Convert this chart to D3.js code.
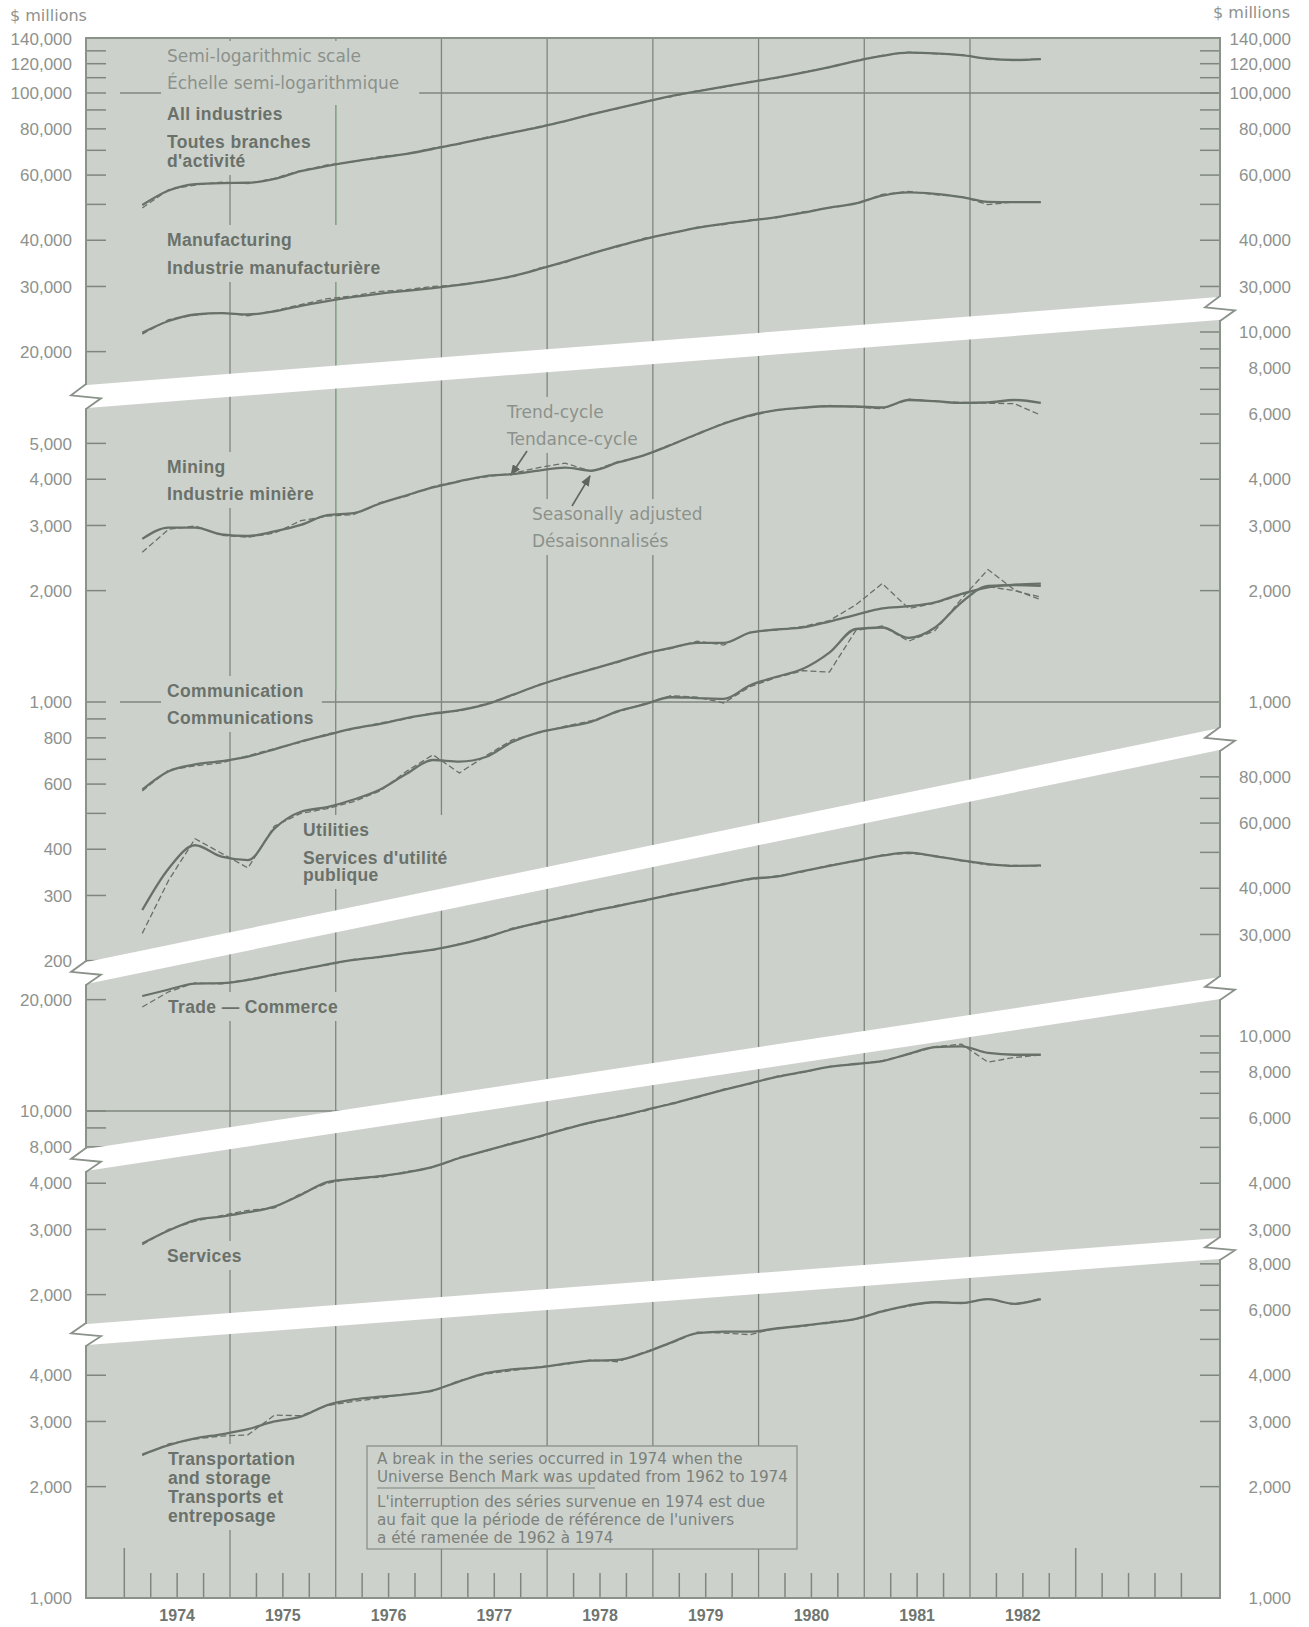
<!DOCTYPE html>
<html>
<head>
<meta charset="utf-8">
<script src="https://cdn.jsdelivr.net/npm/d3@7"></script>
<style>
  html, body { margin: 0; padding: 0; background: #fff; }
  svg { display: block; }
</style>
</head>
<body>
<div id="chart"></div>
<script>
// ---- data ($ millions) ----
const quarters = ["1974Q1","1974Q2","1974Q3","1974Q4","1975Q1","1975Q2","1975Q3","1975Q4",
  "1976Q1","1976Q2","1976Q3","1976Q4","1977Q1","1977Q2","1977Q3","1977Q4",
  "1978Q1","1978Q2","1978Q3","1978Q4","1979Q1","1979Q2","1979Q3","1979Q4",
  "1980Q1","1980Q2","1980Q3","1980Q4","1981Q1","1981Q2","1981Q3","1981Q4",
  "1982Q1","1982Q2","1982Q3"];
const yearLabels = ["1974","1975","1976","1977","1978","1979","1980","1981","1982"];
const gridYears = [1975, 1976, 1977, 1978, 1979, 1980, 1981, 1982];
const tallTickYears = [1974, 1983];

const allIndTrend = [49800,54500,56700,57100,57200,58600,61500,63500,65300,66900,68500,70600,73000,75500,78200,80800,84000,87500,91000,94500,98000,101000,104000,107000,110000,113500,117500,122000,126000,128500,128000,126500,123800,122800,123500];
const allIndSA    = [48900,54800,56400,57400,56900,58800,61700,63900,65200,67300,68400,71000,72800,75900,78000,81100,83800,87900,90800,94900,97700,101400,103600,107300,109700,113900,117200,122400,126300,129000,127600,126900,123200,123100,123300];
const manufTrend  = [22500,24200,25200,25400,25200,25700,26600,27400,28100,28700,29200,29700,30300,31000,32000,33400,35000,36800,38600,40300,41800,43200,44300,45200,46200,47500,49000,50300,52800,53900,53400,52300,50800,50700,50700];
const manufSA     = [22300,24400,25100,25500,25000,25800,26800,27800,28300,29100,29400,30000,30300,31100,31800,33600,34800,37000,38400,40500,41700,43400,44100,45400,46000,47700,48900,50200,53200,54200,53100,52500,49900,50800,50600];
const miningTrend = [2760,2960,2960,2840,2810,2890,3010,3200,3240,3440,3620,3800,3950,4080,4130,4220,4300,4220,4440,4650,4950,5300,5650,5950,6150,6250,6300,6290,6250,6550,6500,6430,6450,6550,6430];
const miningSA    = [2540,2930,2990,2820,2790,2860,3090,3180,3210,3460,3600,3820,3960,4060,4150,4300,4420,4200,4460,4640,4970,5280,5680,5920,6170,6230,6330,6270,6200,6580,6490,6450,6420,6400,5960];
const commTrend   = [580,650,678,692,712,745,782,815,848,873,905,930,950,985,1045,1110,1170,1225,1285,1350,1400,1445,1445,1540,1570,1590,1650,1720,1790,1815,1860,1960,2040,2075,2090];
const commSA      = [575,655,672,685,716,748,778,820,845,878,900,935,945,990,1040,1115,1165,1230,1280,1355,1395,1460,1425,1545,1565,1600,1660,1830,2090,1790,1850,1950,2050,2000,1920];
const utilTrend   = [274,355,410,382,374,455,505,520,545,580,640,697,690,710,780,828,855,885,945,985,1030,1025,1020,1110,1170,1230,1360,1575,1590,1490,1590,1860,2060,2070,2060];
const utilSA      = [237,330,427,390,356,462,500,515,538,575,650,720,643,715,790,825,860,890,940,990,1040,1030,994,1100,1165,1215,1205,1560,1605,1460,1560,1900,2280,2010,1890];
const tradeTrend  = [20450,21300,22100,22150,22600,23400,24100,24900,25600,26100,26700,27300,28200,29500,31000,32300,33400,34700,35800,37100,38400,39700,41000,42400,43000,44500,46000,47500,49000,49900,48800,47600,46500,46000,46100];
const tradeSA     = [19100,21000,22200,22050,22700,23300,24200,24800,25700,26000,26800,27200,28300,29300,31200,32100,33600,34500,36000,36900,38600,39500,41200,42200,43200,44300,46200,47300,49200,49700,49000,47400,46300,46100,45900];
const servTrend   = [2750,2980,3180,3250,3340,3460,3720,4030,4110,4180,4280,4430,4680,4900,5120,5350,5600,5850,6050,6300,6550,6850,7150,7450,7750,8000,8250,8400,8550,8950,9330,9380,9000,8900,8900];
const servSA      = [2730,3000,3160,3270,3380,3430,3750,4000,4130,4150,4300,4410,4700,4880,5150,5320,5630,5820,6080,6270,6580,6820,7180,7420,7780,7970,8280,8380,8580,8920,9360,9500,8500,8750,8880];
const transTrend  = [2440,2590,2700,2770,2860,3000,3090,3320,3440,3500,3550,3640,3850,4050,4150,4200,4300,4380,4400,4600,4900,5200,5250,5250,5350,5450,5550,5680,5950,6180,6300,6270,6420,6240,6420];
const transSA     = [2430,2610,2690,2740,2760,3120,3110,3310,3400,3470,3560,3620,3870,4030,4120,4210,4280,4400,4350,4620,4880,5230,5200,5150,5370,5420,5580,5660,5980,6150,6330,6250,6450,6200,6450];

// axis ticks and labels per panel (top to bottom)
const leftTicks = [
  [20000,30000,40000,50000,60000,70000,80000,90000,100000,110000,120000,130000],
  [200,300,400,500,600,700,800,900,1000,2000,3000,4000,5000],
  [8000,9000,10000,20000],
  [2000,3000,4000],
  [2000,3000,4000]
];
const leftLabels = [
  [20000,30000,40000,60000,80000,100000,120000,140000],
  [200,300,400,600,800,1000,2000,3000,4000,5000],
  [8000,10000,20000],
  [2000,3000,4000],
  [1000,2000,3000,4000]
];
const rightTicks = [
  [30000,40000,50000,60000,70000,80000,90000,100000,110000,120000,130000],
  [2000,3000,4000,5000,6000,7000,8000,9000,10000],
  [30000,40000,50000,60000,70000,80000],
  [3000,4000,5000,6000,7000,8000,9000,10000],
  [2000,3000,4000,5000,6000,7000,8000]
];
const rightLabels = [
  [30000,40000,60000,80000,100000,120000,140000],
  [1000,2000,3000,4000,6000,8000,10000],
  [30000,40000,60000,80000],
  [3000,4000,6000,8000,10000],
  [1000,2000,3000,4000,6000,8000]
];

// ---- layout ----
const W = 1309, H = 1627;
const xLeft = 86, xRight = 1220, yTopEdge = 38, yBottomEdge = 1598;
const DECADE = 370;          // pixels per power of ten, same on every panel
const fill = "#cdd1cc", ink = "#687168", gridInk = "#7e867e", frameInk = "#8a928a";

// white break bands: top edge at left and right, thickness
const bands = [
  {yl: 385, yr: 297, h: 23},
  {yl: 962, yr: 728, h: 22},
  {yl: 1149, yr: 977, h: 22},
  {yl: 1324, yr: 1238, h: 21}
];
function bandY(b, px) { return b.yl + (b.yr - b.yl) * (px - xLeft) / (xRight - xLeft); }

// each panel: y position of a power of ten
const panels = [
  {ref: 100000, yRef: 93},
  {ref: 1000, yRef: 702},
  {ref: 10000, yRef: 1111},
  {ref: 10000, yRef: 1036},
  {ref: 1000, yRef: yBottomEdge}
];
panels.forEach(p => {
  p.y = d3.scaleLog().domain([p.ref / 10, p.ref]).range([p.yRef + DECADE, p.yRef]);
});

// panel outlines between bands
function panelPoly(i) {
  const t = i === 0 ? [[xLeft, yTopEdge], [xRight, yTopEdge]]
    : [[xLeft, bands[i - 1].yl + bands[i - 1].h], [xRight, bands[i - 1].yr + bands[i - 1].h]];
  const b = i === 4 ? [[xRight, yBottomEdge], [xLeft, yBottomEdge]]
    : [[xRight, bands[i].yr], [xLeft, bands[i].yl]];
  return t.concat(b);
}

const x = d3.scaleLinear().domain([1974, 1983]).range([124.3, 1075.7]);
function qTime(q) { return +q.slice(0, 4) + (+q.slice(5) - 1) * 0.25 + 0.17; }

const series = [
  {panel: 0, trend: allIndTrend, sa: allIndSA},
  {panel: 0, trend: manufTrend, sa: manufSA},
  {panel: 1, trend: miningTrend, sa: miningSA},
  {panel: 1, trend: commTrend, sa: commSA},
  {panel: 1, trend: utilTrend, sa: utilSA},
  {panel: 2, trend: tradeTrend, sa: tradeSA},
  {panel: 3, trend: servTrend, sa: servSA},
  {panel: 4, trend: transTrend, sa: transSA}
];

const svg = d3.select("#chart").append("svg")
  .attr("width", W).attr("height", H)
  .style("font-family", "'Liberation Sans', Arial, sans-serif");
const defs = svg.append("defs");
panels.forEach((p, i) => {
  defs.append("clipPath").attr("id", "clip" + i)
    .append("polygon").attr("points", panelPoly(i).map(d => d.join(",")).join(" "));
});
defs.append("marker").attr("id", "arrow")
  .attr("viewBox", "0 0 10 8").attr("refX", 9).attr("refY", 4)
  .attr("markerWidth", 11).attr("markerHeight", 9)
  .attr("markerUnits", "userSpaceOnUse").attr("orient", "auto")
  .append("path").attr("d", "M0,0 L10,4 L0,8 z").attr("fill", "#5f665f");

// background
svg.append("rect").attr("x", xLeft).attr("y", yTopEdge)
  .attr("width", xRight - xLeft).attr("height", yBottomEdge - yTopEdge).attr("fill", fill);

// vertical year grid
const grid = svg.append("g").attr("stroke", gridInk).attr("stroke-width", 1.3);
grid.selectAll("line.v").data(gridYears).enter().append("line")
  .attr("x1", d => x(d)).attr("x2", d => x(d))
  .attr("y1", yTopEdge).attr("y2", yBottomEdge);
// the scan shows the 1976 rule tinted green in the upper part
grid.append("line").attr("x1", x(1976)).attr("x2", x(1976))
  .attr("y1", yTopEdge).attr("y2", 690).attr("stroke", "#7cae7c");

// horizontal rules at powers of ten
const hGrid = [{panel: 0, value: 100000, x0: 120}, {panel: 1, value: 1000, x0: 120}, {panel: 2, value: 10000, x0: xLeft}];
hGrid.forEach(h => {
  grid.append("line").attr("clip-path", `url(#clip${h.panel})`)
    .attr("x1", h.x0).attr("x2", xRight)
    .attr("y1", panels[h.panel].y(h.value)).attr("y2", panels[h.panel].y(h.value));
});

// side ticks
const ticks = svg.append("g").attr("stroke", gridInk).attr("stroke-width", 1.5);
panels.forEach((p, i) => {
  ticks.selectAll(null).data(leftTicks[i]).enter().append("line")
    .attr("x1", xLeft).attr("x2", xLeft + 20)
    .attr("y1", d => p.y(d)).attr("y2", d => p.y(d));
  ticks.selectAll(null).data(rightTicks[i]).enter().append("line")
    .attr("x1", xRight - 20).attr("x2", xRight)
    .attr("y1", d => p.y(d)).attr("y2", d => p.y(d));
});

// bottom quarter ticks
const qTicks = d3.range(1974.25, 1984.01, 0.25).filter(t => !Number.isInteger(t) || t === 1984);
ticks.selectAll(null).data(qTicks).enter().append("line")
  .attr("x1", d => x(d)).attr("x2", d => x(d)).attr("y1", yBottomEdge - 25).attr("y2", yBottomEdge);
ticks.selectAll(null).data(tallTickYears).enter().append("line")
  .attr("x1", d => x(d)).attr("x2", d => x(d)).attr("y1", yBottomEdge - 50).attr("y2", yBottomEdge);

// labels inside the chart, knocked out of the grid
function block(xp, lines, style, pad) {
  const g = svg.append("g");
  const bg = g.append("rect").attr("fill", fill);
  const t = g.selectAll("text").data(lines).enter().append("text")
    .attr("x", xp).attr("y", d => d[1]).text(d => d[0]);
  if (style === "bold") {
    t.attr("font-weight", "bold").attr("font-size", 17.5).attr("letter-spacing", 0.35).attr("fill", "#6a716a");
  } else {
    t.attr("font-family", "'DejaVu Sans', sans-serif").attr("font-size", 17).attr("fill", "#8b918b");
  }
  const bb = g.node().getBBox();
  const pd = pad || [6, 5, 8, 4];
  bg.attr("x", bb.x - pd[0]).attr("y", bb.y - pd[1])
    .attr("width", bb.width + pd[0] + pd[2]).attr("height", bb.height + pd[1] + pd[3]);
}
block(167, [["Semi-logarithmic scale", 62], ["Échelle semi-logarithmique", 89]], "light", [6, 5, 20, 12]);
block(167, [["All industries", 120], ["Toutes branches", 148], ["d'activité", 167]], "bold");
block(167, [["Manufacturing", 246], ["Industrie manufacturière", 274]], "bold");
block(167, [["Mining", 473], ["Industrie minière", 500]], "bold");
block(507, [["Trend-cycle", 418], ["Tendance-cycle", 445]], "light");
block(532, [["Seasonally adjusted", 520], ["Désaisonnalisés", 547]], "light");
block(167, [["Communication", 697], ["Communications", 724]], "bold");
block(303, [["Utilities", 836], ["Services d'utilité", 864], ["publique", 881]], "bold");
block(168, [["Trade — Commerce", 1013]], "bold");
block(167, [["Services", 1262]], "bold");
block(168, [["Transportation", 1465], ["and storage", 1484], ["Transports et", 1503], ["entreposage", 1522]], "bold");

// arrows for the legend
svg.append("line").attr("x1", 527).attr("y1", 451).attr("x2", 511).attr("y2", 475)
  .attr("stroke", "#5f665f").attr("stroke-width", 1.6).attr("marker-end", "url(#arrow)");
svg.append("line").attr("x1", 572).attr("y1", 506).attr("x2", 590).attr("y2", 476)
  .attr("stroke", "#5f665f").attr("stroke-width", 1.6).attr("marker-end", "url(#arrow)");

// note box
const note = svg.append("g");
note.append("rect").attr("x", 367).attr("y", 1446).attr("width", 430).attr("height", 103)
  .attr("fill", fill).attr("stroke", frameInk).attr("stroke-width", 1.3);
const noteLines = [
  ["A break in the series occurred in 1974 when the", 1464],
  ["Universe Bench Mark was updated from 1962 to 1974", 1482],
  ["L'interruption des séries survenue en 1974 est due", 1507],
  ["au fait que la période de référence de l'univers", 1525],
  ["a été ramenée de 1962 à 1974", 1543]
];
note.selectAll("text").data(noteLines).enter().append("text")
  .attr("x", 377).attr("y", d => d[1]).text(d => d[0])
  .attr("font-family", "'DejaVu Sans', sans-serif").attr("font-size", 15.2).attr("fill", "#7b817b");
note.append("line").attr("x1", 377).attr("x2", 595).attr("y1", 1488).attr("y2", 1488)
  .attr("stroke", "#7b817b").attr("stroke-width", 1.2);

// series: trend-cycle solid, seasonally adjusted dashed
series.forEach(s => {
  const ys = panels[s.panel].y;
  const g = svg.append("g").attr("clip-path", `url(#clip${s.panel})`);
  const trendLine = d3.line().x((d, i) => x(qTime(quarters[i]))).y(d => ys(d)).curve(d3.curveMonotoneX);
  const saLine = d3.line().x((d, i) => x(qTime(quarters[i]))).y(d => ys(d));
  g.append("path").attr("d", saLine(s.sa)).attr("fill", "none")
    .attr("stroke", ink).attr("stroke-width", 1.3).attr("stroke-dasharray", "6,3");
  g.append("path").attr("d", trendLine(s.trend)).attr("fill", "none")
    .attr("stroke", ink).attr("stroke-width", 2.3).attr("stroke-linejoin", "round");
});

// frame
svg.append("rect").attr("x", xLeft).attr("y", yTopEdge)
  .attr("width", xRight - xLeft).attr("height", yBottomEdge - yTopEdge)
  .attr("fill", "none").attr("stroke", frameInk).attr("stroke-width", 2);

// white bands and break marks
bands.forEach(b => {
  const x0 = xLeft - 2, x1 = xRight + 2;
  svg.append("polygon").attr("fill", "#fff")
    .attr("points", [[x0, bandY(b, x0)], [x1, bandY(b, x1)], [x1, bandY(b, x1) + b.h], [x0, bandY(b, x0) + b.h]]
      .map(d => d.join(",")).join(" "));
  [xLeft, xRight].forEach(px => {
    const yT = bandY(b, px), yB = yT + b.h;
    svg.append("path")
      .attr("d", `M${px},${yT - 1} L${px - 15},${yT + b.h * 0.45} L${px + 15},${yT + b.h * 0.58} L${px},${yB + 1}`)
      .attr("fill", "none").attr("stroke", frameInk).attr("stroke-width", 1.8);
  });
});

// axis numbers
const fmt = d3.format(",");
const axisText = svg.append("g").attr("font-size", 17).attr("fill", "#8e928e");
panels.forEach((p, i) => {
  axisText.selectAll(null).data(leftLabels[i]).enter().append("text")
    .attr("x", 72).attr("y", d => p.y(d)).attr("dy", "0.36em")
    .attr("text-anchor", "end").text(d => fmt(d));
  axisText.selectAll(null).data(rightLabels[i]).enter().append("text")
    .attr("x", 1291).attr("y", d => p.y(d)).attr("dy", "0.36em")
    .attr("text-anchor", "end").text(d => fmt(d));
});
svg.append("text").attr("x", 10).attr("y", 21).text("$ millions")
  .attr("font-family", "'DejaVu Sans', sans-serif").attr("font-size", 16).attr("fill", "#8e928e");
svg.append("text").attr("x", 1290).attr("y", 18).attr("text-anchor", "end").text("$ millions")
  .attr("font-family", "'DejaVu Sans', sans-serif").attr("font-size", 16).attr("fill", "#8e928e");

// year labels, centred in each year
svg.append("g").selectAll("text").data(yearLabels).enter().append("text")
  .attr("x", d => x(+d + 0.5)).attr("y", 1621).attr("text-anchor", "middle")
  .attr("font-weight", "bold").attr("font-size", 16).attr("fill", "#6f756f")
  .text(d => d);
</script>
</body>
</html>
